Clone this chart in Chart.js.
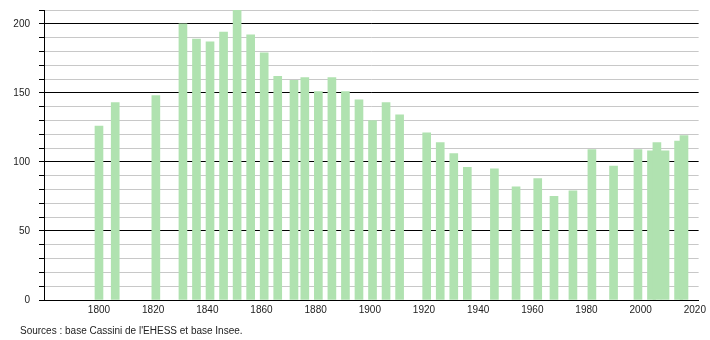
<!DOCTYPE html>
<html>
<head>
<meta charset="utf-8">
<script src="https://cdn.jsdelivr.net/npm/chart.js@4/dist/chart.umd.min.js"></script>
<style>
  html, body { margin: 0; padding: 0; background: #fff; }
  #wrap { position: relative; width: 710px; height: 340px; }
  #src {
    position: absolute; left: 20px; top: 325px;
    font: 10px "Liberation Sans", Arial, sans-serif; color: #222;
  }
</style>
</head>
<body>
<div id="wrap">
  <canvas id="pop" width="710" height="340"></canvas>
  <div id="src">Sources : base Cassini de l'EHESS et base Insee.</div>
</div>
<script>
// census years and population
var years = [1800, 1806, 1821, 1831, 1836, 1841, 1846, 1851, 1856, 1861,
             1866, 1872, 1876, 1881, 1886, 1891, 1896, 1901, 1906, 1911,
             1921, 1926, 1931, 1936, 1946, 1954, 1962, 1968, 1975, 1982,
             1990, 1999, 2004, 2006, 2009, 2014, 2016];
var population = [126, 143, 148, 200, 189, 187, 194, 210, 192, 179,
                  162, 159, 161, 151, 161, 151, 145, 130, 143, 134,
                  121, 114, 106, 96, 95, 82, 88, 75, 79, 109,
                  97, 109, 108, 114, 108, 115, 119];
var yLabels = [0, 50, 100, 150, 200];
var xLabels = [1800, 1820, 1840, 1860, 1880, 1900, 1920, 1940, 1960, 1980, 2000, 2020];

var points = years.map(function(y, i){ return {x: y, y: population[i]}; });
var font = { family: '"Liberation Sans", Arial, sans-serif', size: 10 };

new Chart(document.getElementById('pop'), {
  type: 'bar',
  data: {
    datasets: [{
      data: points,
      backgroundColor: 'rgb(176,226,176)',
      borderWidth: 0,
      barThickness: 8
    }]
  },
  options: {
    responsive: false,
    animation: false,
    layout: { padding: { top: 10, right: 10, bottom: 0, left: 0 } },
    plugins: { legend: { display: false }, tooltip: { enabled: false } },
    scales: {
      x: {
        type: 'linear',
        offset: false,
        min: 1779.7,
        max: 2021.4,
        afterFit: function(s){ s.height = 40; },
        grid: { display: false, drawTicks: false, offset: false },
        border: { display: true, color: '#000', width: 1 },
        ticks: {
          stepSize: 20,
          includeBounds: false,
          padding: 4,
          color: '#222',
          font: font,
          autoSkip: false,
          maxRotation: 0,
          callback: function(v){ return xLabels.indexOf(v) !== -1 ? String(v) : ''; }
        }
      },
      y: {
        min: 0,
        max: 210,
        // fixed axis width and no label overhang, so the plot sits where the reference has it
        afterFit: function(s){ s.width = 44; s.paddingTop = 0; s.paddingBottom = 0; },
        grid: {
          color: function(c){ return c.tick && c.tick.value % 50 === 0 ? '#000' : '#c8c8c8'; },
          tickColor: '#000',
          tickLength: 5
        },
        border: { display: true, color: '#000', width: 1 },
        ticks: {
          stepSize: 10,
          padding: 9,
          color: '#222',
          font: font,
          autoSkip: false,
          callback: function(v){ return yLabels.indexOf(v) !== -1 ? String(v) : ''; }
        }
      }
    }
  }
});
</script>
</body>
</html>
